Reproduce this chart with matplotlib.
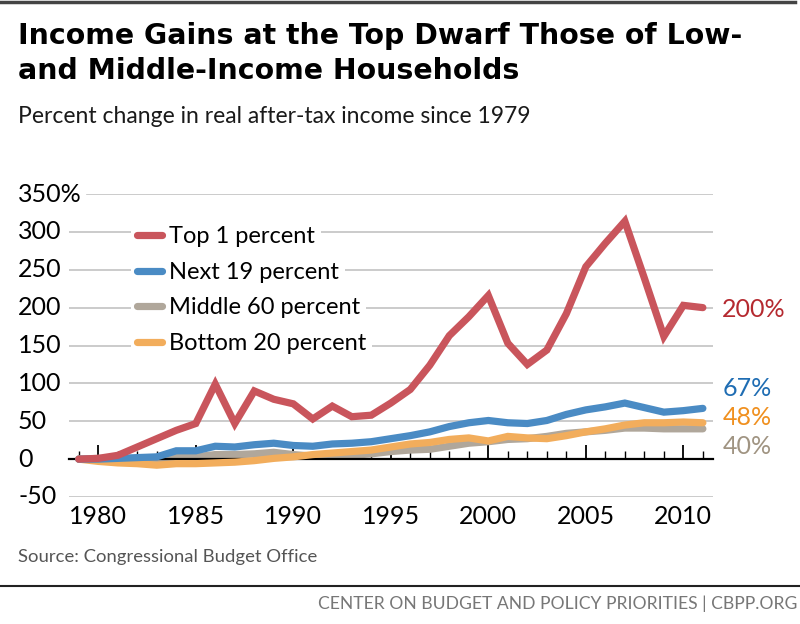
import matplotlib
matplotlib.use("Agg")
import matplotlib.pyplot as plt
from matplotlib.lines import Line2D

# --- data (percent change since 1979) ---
years = list(range(1979, 2012))
top_1 = [0, 1, 5, 16, 27, 38, 47, 99, 47, 90, 79, 73, 53, 70, 56, 58, 74, 92,
         124, 163, 188, 216, 153, 125, 144, 192, 254, 285, 314, 239, 162, 203, 200]
next_19 = [0, 0, 1, 2, 3, 11, 11, 17, 16, 19, 21, 18, 17, 20, 21, 23, 27, 31,
           36, 43, 48, 51, 48, 47, 51, 59, 65, 69, 74, 68, 62, 64, 67]
middle_60 = [0, 1, 0, -1, -2, 3, 3, 6, 6, 7, 9, 6, 4, 4, 5, 7, 10, 12,
             13, 17, 21, 23, 26, 27, 30, 34, 36, 38, 41, 41, 40, 40, 40]
bottom_20 = [0, -3, -5, -6, -8, -6, -6, -5, -4, -2, 1, 3, 6, 8, 10, 12, 16, 20,
             22, 26, 28, 24, 30, 28, 27, 31, 36, 40, 45, 48, 48, 49, 48]

series_names = ["Top 1 percent", "Next 19 percent", "Middle 60 percent", "Bottom 20 percent"]
line_colors = ["#c9555c", "#4a8bc4", "#b0a79b", "#f2ad5c"]
end_colors = ["#b52a30", "#1f6db3", "#f0901f", "#a09482"]
end_labels = ["200%", "67%", "48%", "40%"]
end_offsets = [-1, 14, 8, -17]   # points, to keep the labels apart

y_ticks = [-50, 0, 50, 100, 150, 200, 250, 300, 350]
y_labels = ["-50", "0", "50", "100", "150", "200", "250", "300", "350%"]
x_major = [1980, 1985, 1990, 1995, 2000, 2005, 2010]

LATO = ["Lato", "DejaVu Sans"]

W, H = 800, 624
fig = plt.figure(figsize=(W / 100, H / 100), dpi=100)
fig.patch.set_facecolor("white")
renderer = fig.canvas.get_renderer()


def fit_text(x, y, s, width_px, size, **kw):
    # shrink/grow the font so the line spans the same width as in the chart
    t = fig.text(x / W, 1 - y / H, s, fontsize=size, va="baseline", **kw)
    w = t.get_window_extent(renderer).width
    t.set_fontsize(size * width_px / w)
    return t


# axes box: x 69..713 px, y 194 (350) .. 497 (-50) px
ax = fig.add_axes([69 / W, (H - 497) / H, 644 / W, 303 / H])
ax.set_xlim(1978.5, 2011.52)
ax.set_ylim(-50, 350)

for s in ["top", "right", "left"]:
    ax.spines[s].set_visible(False)
ax.spines["bottom"].set_position(("data", 0))
ax.spines["bottom"].set_color("black")
ax.spines["bottom"].set_linewidth(1.6)
ax.spines["bottom"].set_zorder(6)

# gridlines (350 one starts after the wider label)
for v in y_ticks:
    if v == 0:
        continue
    xmin = (87 - 69) / 644 if v == 350 else 0
    ax.axhline(v, xmin=xmin, xmax=1, color="#c2c2c2", lw=1.2, zorder=1)

series = [top_1, next_19, middle_60, bottom_20]
zorders = [9, 8, 6, 7]
lines = []
for vals, c, z in zip(series, line_colors, zorders):
    ln, = ax.plot(years, vals, color=c, lw=5.2, zorder=z,
                  solid_capstyle="round", solid_joinstyle="miter")
    lines.append(ln)

# end labels
for vals, lab, c, dy in zip(series, end_labels, end_colors, end_offsets):
    ax.annotate(lab, xy=(years[-1], vals[-1]), xytext=(14, dy),
                textcoords="offset points", ha="left", va="center",
                color=c, fontsize=18, family=LATO, annotation_clip=False)

# x ticks
ax.set_xticks(x_major)
ax.set_xticks(years, minor=True)
ax.tick_params(axis="x", which="major", direction="in", length=10, width=1.3,
               color="black", pad=33, labelsize=18)
ax.tick_params(axis="x", which="minor", direction="in", length=5.5, width=1.0,
               color="black")
for t in ax.get_xticklabels():
    t.set_family(LATO)

# y tick labels, left-aligned at x=18 px
ax.set_yticks(y_ticks)
ax.set_yticklabels(y_labels)
ax.tick_params(axis="y", length=0, pad=(69 - 18) * 0.72, labelsize=18)
for t in ax.get_yticklabels():
    t.set_family(LATO)
    t.set_ha("left")
    t.set_va("center")

# legend: one white box per entry so the gridlines show between them
leg_rows = [236.5, 272.5, 307.7, 343.3]
for ln, name, yrow in zip(lines, series_names, leg_rows):
    leg = ax.legend([ln], [name], loc="center left",
                    bbox_to_anchor=(131 / W, (H - yrow) / H),
                    bbox_transform=fig.transFigure, frameon=True,
                    facecolor="white", edgecolor="none", framealpha=1,
                    fancybox=False, handlelength=1.05, handletextpad=0.3,
                    borderpad=0.25, borderaxespad=0, prop={"family": LATO, "size": 17})
    leg.get_frame().set_linewidth(0)
    leg.set_zorder(5)
    ax.add_artist(leg)

# titles
bold = dict(fontweight="bold", family=["DejaVu Sans"], color="black")
t1 = fit_text(18, 43.6, "Income Gains at the Top Dwarf Those of Low-", 722, 20, **bold)
fig.text(18 / W, 1 - 79.3 / H, "and Middle-Income Households",
         fontsize=t1.get_fontsize(), va="baseline", **bold)
fit_text(18, 123, "Percent change in real after-tax income since 1979", 512, 17.5,
         family=LATO, color="#1a1a1a")

fit_text(18, 562, "Source: Congressional Budget Office", 300, 12.5,
         family=LATO, color="#555555")
foot = fit_text(0, 609, "CENTER ON BUDGET AND POLICY PRIORITIES | CBPP.ORG", 479, 13.5,
                family=LATO, color="#777777")
foot.set_ha("right")
foot.set_x(797 / W)

# top bar and footer rule
fig.add_artist(Line2D([0, 795 / W], [1 - 1.5 / H, 1 - 1.5 / H], color="#444444", lw=2.5,
                      transform=fig.transFigure))
fig.add_artist(Line2D([0, 1], [1 - 585.7 / H, 1 - 585.7 / H], color="#222222", lw=1.5,
                      transform=fig.transFigure))

fig.savefig("out.png", dpi=100)
